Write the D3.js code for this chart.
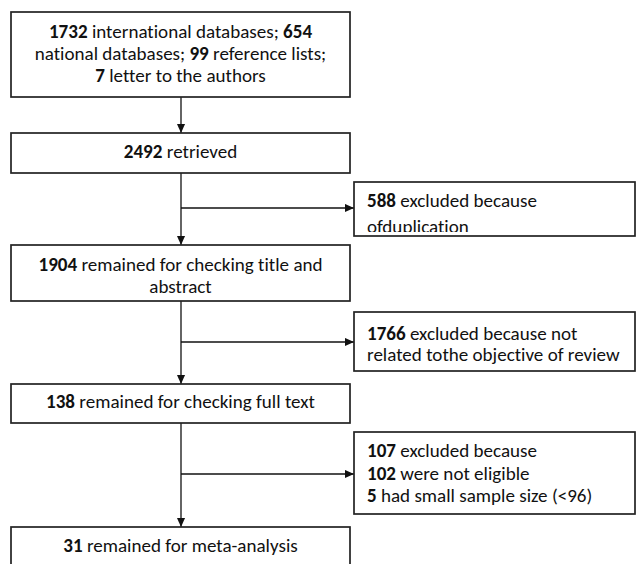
<!DOCTYPE html>
<html>
<head>
<meta charset="utf-8">
<script src="https://cdn.jsdelivr.net/npm/d3@7"></script>
<style>
  html, body { margin: 0; padding: 0; background: #fff; }
  svg { display: block; }
  text { font-variant-ligatures: none; font-feature-settings: "liga" 0, "clig" 0; }
</style>
</head>
<body>
<div id="chart"></div>
<script>
// ---- data (text of the flow diagram; **x** marks bold numbers) ----
const sourceLines = [
  "**1732** international databases; **654**",
  "national databases; **99** reference lists;",
  "**7** letter to the authors"
];
const retrievedLines = ["**2492** retrieved"];
const titleAbstractLines = ["**1904** remained for checking title and", "abstract"];
const fullTextLines = ["**138** remained for checking full text"];
const metaLines = ["**31** remained for meta-analysis"];

const duplicationLines = ["**588** excluded because", "ofduplication"];
const objectiveLines = ["**1766** excluded because not", "related tothe objective of review"];
const eligibilityLines = [
  "**107** excluded because",
  "**102** were not eligible",
  "**5** had small sample size (<96)"
];

// ---- layout ----
const W = 636, H = 564;
const mainX0 = 11, mainX1 = 350, mainCx = 181;
const sideX0 = 354, sideX1 = 635, sideTextX = 367;

const mainBoxes = [
  { lines: sourceLines,        y0: 12,  y1: 97,  base: [38, 60, 82] },
  { lines: retrievedLines,     y0: 133, y1: 173, base: [158] },
  { lines: titleAbstractLines, y0: 245, y1: 301, base: [271, 293] },
  { lines: fullTextLines,      y0: 384, y1: 423, base: [408] },
  { lines: metaLines,          y0: 527, y1: 600, base: [552] }
];
const sideBoxes = [
  { lines: duplicationLines, y0: 182, y1: 236, base: [207, 233], branchY: 208, clip: 232 },
  { lines: objectiveLines,   y0: 312, y1: 371, base: [340, 361], branchY: 342 },
  { lines: eligibilityLines, y0: 432, y1: 514, base: [457, 480, 502], branchY: 474 }
];

const FONT = "Carlito, Lato, 'Open Sans', sans-serif";
const TEXT_COLOR = "#111";
const BOX_STROKE = "#222";

const svg = d3.select("#chart").append("svg")
  .attr("width", W).attr("height", H)
  .attr("viewBox", `0 0 ${W} ${H}`);

const defs = svg.append("defs");
defs.append("marker")
  .attr("id", "arrow")
  .attr("viewBox", "0 0 10 10")
  .attr("refX", 10).attr("refY", 5)
  .attr("markerUnits", "userSpaceOnUse")
  .attr("markerWidth", 9).attr("markerHeight", 9)
  .attr("orient", "auto")
  .append("path")
  .attr("d", "M0,0.5 L10,5 L0,9.5 Z")
  .attr("fill", "#111");

function addRich(textSel, str) {
  str.split("**").forEach((part, i) => {
    if (!part) return;
    textSel.append("tspan")
      .attr("font-weight", i % 2 === 1 ? "bold" : "normal")
      .text(part);
  });
}
// fit font size so that a reference line has the measured width of the original
const probe = svg.append("text").attr("font-family", FONT).attr("font-size", 16);
addRich(probe, fullTextLines[0]);
const probeW = probe.node().getComputedTextLength();
probe.remove();
const fontSize = probeW > 0 ? 16 * 269 / probeW : 16;

// connector lines (drawn first, boxes on top)
const lines = svg.append("g")
  .attr("stroke", "#111").attr("stroke-width", 1.3).attr("fill", "none");

mainBoxes.slice(0, -1).forEach((b, i) => {
  const next = mainBoxes[i + 1];
  lines.append("line")
    .attr("x1", mainCx).attr("x2", mainCx)
    .attr("y1", b.y1).attr("y2", next.y0)
    .attr("marker-end", "url(#arrow)");
});
sideBoxes.forEach(s => {
  lines.append("line")
    .attr("x1", mainCx).attr("x2", sideX0)
    .attr("y1", s.branchY).attr("y2", s.branchY)
    .attr("marker-end", "url(#arrow)");
});

// main boxes
const mainG = svg.append("g");
mainBoxes.forEach(b => {
  const g = mainG.append("g");
  g.append("rect")
    .attr("x", mainX0).attr("y", b.y0)
    .attr("width", mainX1 - mainX0).attr("height", b.y1 - b.y0)
    .attr("fill", "#fff").attr("stroke", BOX_STROKE).attr("stroke-width", 1.7);
  b.lines.forEach((ln, j) => {
    const t = g.append("text")
      .attr("x", (mainX0 + mainX1) / 2).attr("y", b.base[j])
      .attr("text-anchor", "middle")
      .attr("font-family", FONT).attr("font-size", fontSize)
      .attr("fill", TEXT_COLOR);
    addRich(t, ln);
  });
});

// side (exclusion) boxes
const sideG = svg.append("g");
sideBoxes.forEach((s, i) => {
  const g = sideG.append("g");
  g.append("rect")
    .attr("x", sideX0).attr("y", s.y0)
    .attr("width", sideX1 - sideX0).attr("height", s.y1 - s.y0)
    .attr("fill", "#fff").attr("stroke", BOX_STROKE).attr("stroke-width", 1.7);
  const tg = g.append("g");
  if (s.clip) {
    const id = "clip" + i;
    defs.append("clipPath").attr("id", id)
      .append("rect")
      .attr("x", sideX0).attr("y", s.y0)
      .attr("width", sideX1 - sideX0).attr("height", s.clip - s.y0);
    tg.attr("clip-path", `url(#${id})`);
  }
  s.lines.forEach((ln, j) => {
    const t = tg.append("text")
      .attr("x", sideTextX).attr("y", s.base[j])
      .attr("font-family", FONT).attr("font-size", fontSize)
      .attr("fill", TEXT_COLOR);
    addRich(t, ln);
  });
});
</script>
</body>
</html>
